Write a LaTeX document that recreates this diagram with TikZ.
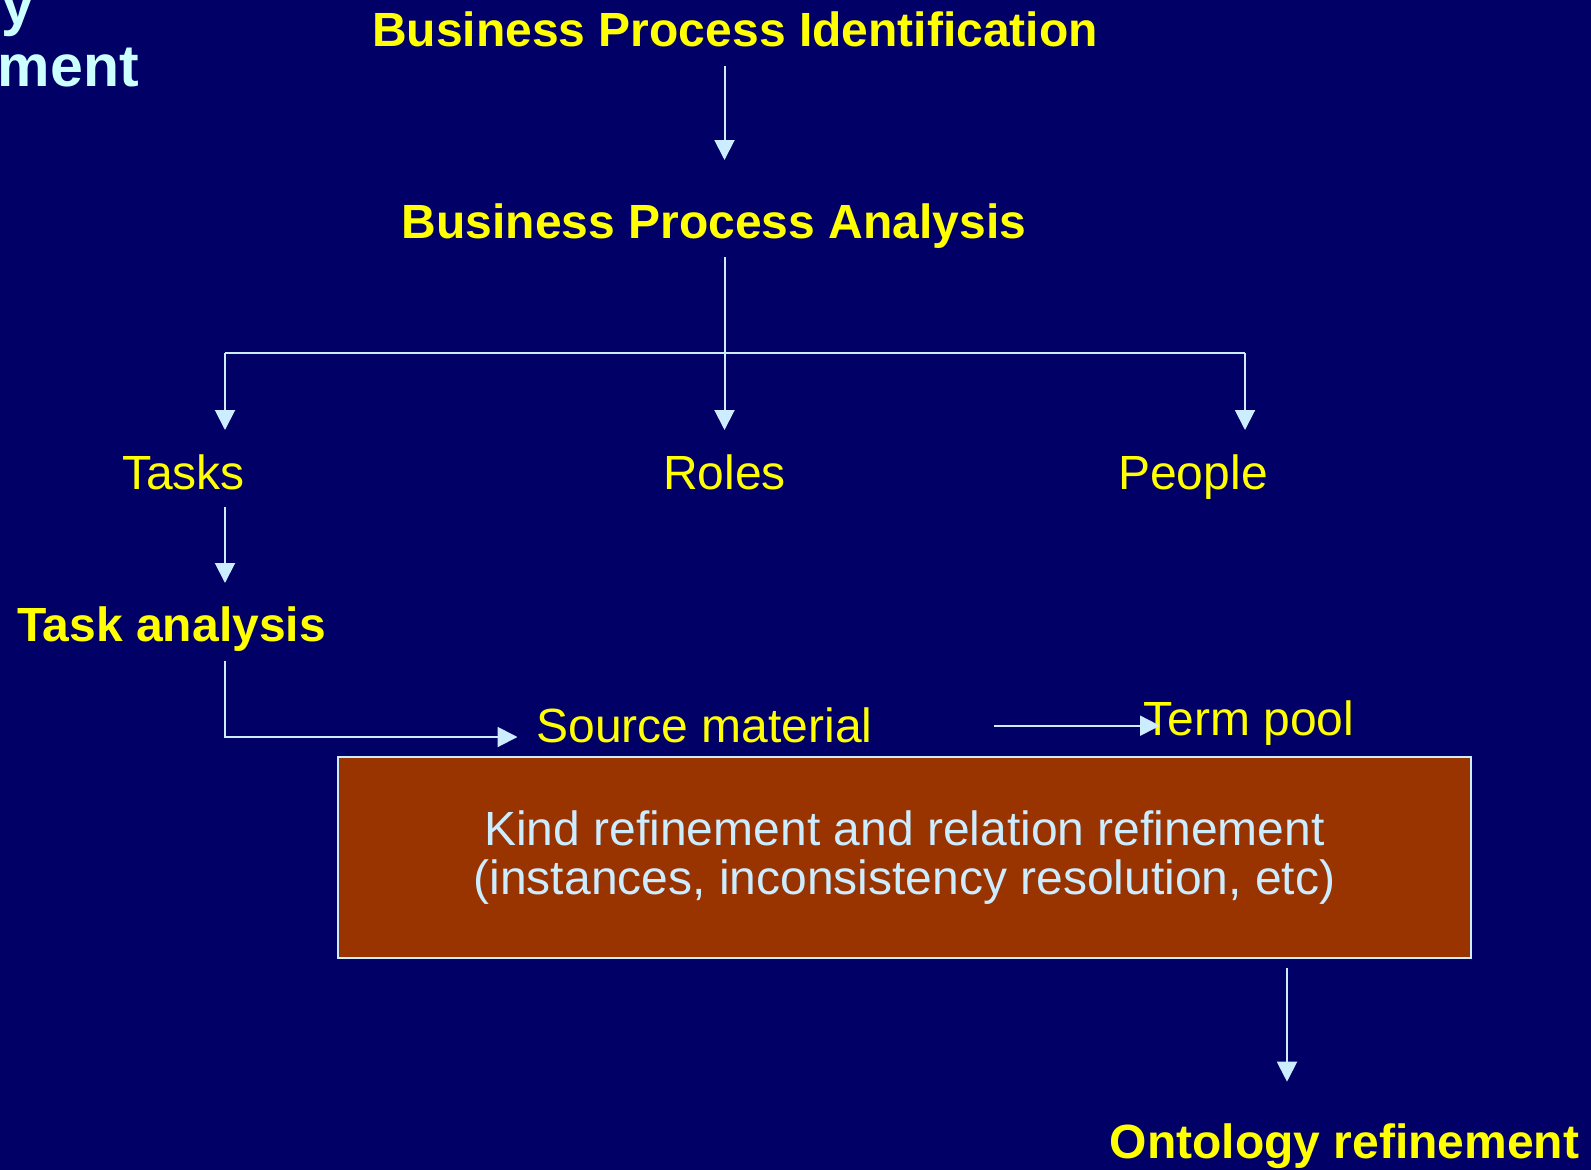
\documentclass[tikz,border=0pt]{standalone}
\usepackage{fontspec}
\setmainfont{Liberation Sans}
\usetikzlibrary{arrows.meta}

\definecolor{slidebg}{RGB}{0,0,102}
\definecolor{titleyellow}{RGB}{255,255,0}
\definecolor{paleblue}{RGB}{204,236,255}
\definecolor{palecyan}{RGB}{204,255,255}
\definecolor{rust}{RGB}{153,51,0}

\tikzset{
  lbl/.style={inner sep=0pt, anchor=base, text=titleyellow,
              font=\fontsize{48}{49}\selectfont},
  boldlbl/.style={lbl, font=\fontsize{48}{49}\selectfont\bfseries},
  heading/.style={inner sep=0pt, text=palecyan,
                  font=\fontsize{59}{60}\selectfont\bfseries},
  link/.style={draw=paleblue, line width=2pt},
  arr/.style={link, -{Triangle[width=20pt,length=20pt]}},
  refinebox/.style={draw=paleblue, line width=2.5pt, fill=rust,
                    text=paleblue, align=center, inner sep=0pt,
                    minimum width=1133pt, minimum height=201pt,
                    font=\fontsize{48}{49}\selectfont}
}

\begin{document}
\begin{tikzpicture}[x=1pt, y=-1pt]
  % page and background
  \useasboundingbox (0,0) rectangle (1591,1170);
  \fill[slidebg] (0,0) rectangle (1591,1170);
  \clip (0,0) rectangle (1591,1170);

  % slide heading (runs off the left edge)
  \node[heading, anchor=base east] (hd2) at (139,86) {development};
  \node[heading, anchor=base west] (hd1) at ([yshift=62pt]hd2.base west) {Ontology};

  % process labels
  \node[boldlbl] (bpi) at (735,46.7) {Business Process Identification};
  \node[boldlbl] (bpa) at (714,238.5) {Business Process Analysis};
  \node[lbl] (tasks) at (183.5,489) {Tasks};
  \node[lbl] (roles) at (724.5,489) {Roles};
  \node[lbl] (people) at (1193,489) {People};
  \node[boldlbl] (ta) at (171.5,641) {Task analysis};
  \node[lbl] (src) at (704.5,742) {Source material};
  \node[lbl] (term) at (1249,735) {Term pool};
  \node[refinebox] (refine) at (904.5,857.5)
    {Kind refinement and relation refinement\\(instances, inconsistency resolution, etc)};
  \node[boldlbl] (onto) at (1344.5,1158) {Ontology refinement};

  % connector end points
  \coordinate (bpiout) at (724.5,66);
  \coordinate (bpain) at (724.5,160);
  \coordinate (bpaout) at (724.5,257);
  \coordinate (split) at (724.5,353);
  \coordinate (tasksin) at (225,430);
  \coordinate (rolesin) at (724.5,430);
  \coordinate (peoplein) at (1245,430);
  \coordinate (tasksout) at (225,507);
  \coordinate (tain) at (225,583);
  \coordinate (taout) at (225,660.5);
  \coordinate (srcin) at (517.5,737);
  \coordinate (srcout) at (994,725.7);
  \coordinate (termin) at (1160,725.7);
  \coordinate (refout) at (1287,967.7);
  \coordinate (ontoin) at (1287,1081.7);

  % connectors
  \draw[arr] (bpiout) -- (bpain);
  \draw[arr] (bpaout) -- (rolesin);
  \draw[link] (split -| tasksin) -- (split -| peoplein);
  \draw[arr] (split -| tasksin) -- (tasksin);
  \draw[arr] (split -| peoplein) -- (peoplein);
  \draw[arr] (tasksout) -- (tain);
  \draw[arr] (taout) |- (srcin);
  \draw[arr] (srcout) -- (termin);
  \draw[arr] (refout) -- (ontoin);
\end{tikzpicture}
\end{document}
